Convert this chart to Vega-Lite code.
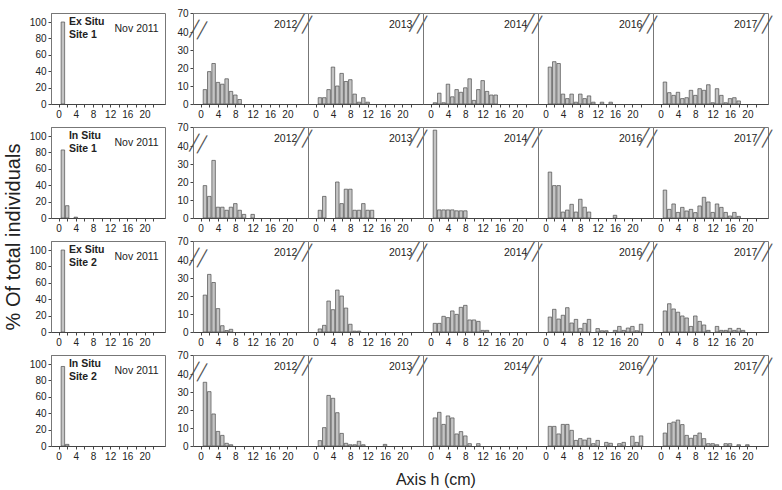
{
"$schema": "https://vega.github.io/schema/vega-lite/v6.json",
"background": "white",
"padding": {"left": 3, "top": 8, "right": 5, "bottom": 5},
"title": {"text": "Axis h (cm)", "orient": "bottom", "anchor": "middle", "fontSize": 16, "fontWeight": "normal", "font": "Liberation Sans", "color": "#222", "offset": 10, "dx": 47},
"spacing": 10,
"datasets": {"d": [
{"s":"Ex Situ\nSite 1","yr":"Nov 2011","h":1,"v":100},
{"s":"Ex Situ\nSite 1","yr":"2012","h":1,"v":8},{"s":"Ex Situ\nSite 1","yr":"2012","h":2,"v":18},{"s":"Ex Situ\nSite 1","yr":"2012","h":3,"v":22.5},{"s":"Ex Situ\nSite 1","yr":"2012","h":4,"v":12},{"s":"Ex Situ\nSite 1","yr":"2012","h":5,"v":11},{"s":"Ex Situ\nSite 1","yr":"2012","h":6,"v":14},{"s":"Ex Situ\nSite 1","yr":"2012","h":7,"v":7},{"s":"Ex Situ\nSite 1","yr":"2012","h":8,"v":5},{"s":"Ex Situ\nSite 1","yr":"2012","h":9,"v":2.5},
{"s":"Ex Situ\nSite 1","yr":"2013","h":1,"v":3.5},{"s":"Ex Situ\nSite 1","yr":"2013","h":2,"v":3.5},{"s":"Ex Situ\nSite 1","yr":"2013","h":3,"v":8},{"s":"Ex Situ\nSite 1","yr":"2013","h":4,"v":20.5},{"s":"Ex Situ\nSite 1","yr":"2013","h":5,"v":10},{"s":"Ex Situ\nSite 1","yr":"2013","h":6,"v":17},{"s":"Ex Situ\nSite 1","yr":"2013","h":7,"v":12.5},{"s":"Ex Situ\nSite 1","yr":"2013","h":8,"v":13.5},{"s":"Ex Situ\nSite 1","yr":"2013","h":9,"v":5.5},{"s":"Ex Situ\nSite 1","yr":"2013","h":10,"v":1},{"s":"Ex Situ\nSite 1","yr":"2013","h":11,"v":3.5},{"s":"Ex Situ\nSite 1","yr":"2013","h":12,"v":1},
{"s":"Ex Situ\nSite 1","yr":"2014","h":1,"v":0.7},{"s":"Ex Situ\nSite 1","yr":"2014","h":2,"v":6},{"s":"Ex Situ\nSite 1","yr":"2014","h":3,"v":0.7},{"s":"Ex Situ\nSite 1","yr":"2014","h":4,"v":11},{"s":"Ex Situ\nSite 1","yr":"2014","h":5,"v":4},{"s":"Ex Situ\nSite 1","yr":"2014","h":6,"v":8},{"s":"Ex Situ\nSite 1","yr":"2014","h":7,"v":6.5},{"s":"Ex Situ\nSite 1","yr":"2014","h":8,"v":9},{"s":"Ex Situ\nSite 1","yr":"2014","h":9,"v":14},{"s":"Ex Situ\nSite 1","yr":"2014","h":10,"v":2},{"s":"Ex Situ\nSite 1","yr":"2014","h":11,"v":8},{"s":"Ex Situ\nSite 1","yr":"2014","h":12,"v":13},{"s":"Ex Situ\nSite 1","yr":"2014","h":13,"v":7},{"s":"Ex Situ\nSite 1","yr":"2014","h":14,"v":5},{"s":"Ex Situ\nSite 1","yr":"2014","h":15,"v":5},
{"s":"Ex Situ\nSite 1","yr":"2016","h":1,"v":20.5},{"s":"Ex Situ\nSite 1","yr":"2016","h":2,"v":23.5},{"s":"Ex Situ\nSite 1","yr":"2016","h":3,"v":22.5},{"s":"Ex Situ\nSite 1","yr":"2016","h":4,"v":5.5},{"s":"Ex Situ\nSite 1","yr":"2016","h":5,"v":3},{"s":"Ex Situ\nSite 1","yr":"2016","h":6,"v":5.5},{"s":"Ex Situ\nSite 1","yr":"2016","h":7,"v":1},{"s":"Ex Situ\nSite 1","yr":"2016","h":8,"v":5.5},{"s":"Ex Situ\nSite 1","yr":"2016","h":9,"v":3},{"s":"Ex Situ\nSite 1","yr":"2016","h":10,"v":4.5},{"s":"Ex Situ\nSite 1","yr":"2016","h":11,"v":1},{"s":"Ex Situ\nSite 1","yr":"2016","h":13,"v":1},{"s":"Ex Situ\nSite 1","yr":"2016","h":15,"v":1},
{"s":"Ex Situ\nSite 1","yr":"2017","h":1,"v":12.2},{"s":"Ex Situ\nSite 1","yr":"2017","h":2,"v":6.3},{"s":"Ex Situ\nSite 1","yr":"2017","h":3,"v":4.8},{"s":"Ex Situ\nSite 1","yr":"2017","h":4,"v":6.5},{"s":"Ex Situ\nSite 1","yr":"2017","h":5,"v":3},{"s":"Ex Situ\nSite 1","yr":"2017","h":6,"v":3.5},{"s":"Ex Situ\nSite 1","yr":"2017","h":7,"v":7.6},{"s":"Ex Situ\nSite 1","yr":"2017","h":8,"v":4.8},{"s":"Ex Situ\nSite 1","yr":"2017","h":9,"v":8.5},{"s":"Ex Situ\nSite 1","yr":"2017","h":10,"v":7.6},{"s":"Ex Situ\nSite 1","yr":"2017","h":11,"v":10.7},{"s":"Ex Situ\nSite 1","yr":"2017","h":12,"v":0.7},{"s":"Ex Situ\nSite 1","yr":"2017","h":13,"v":8.5},{"s":"Ex Situ\nSite 1","yr":"2017","h":14,"v":4.8},{"s":"Ex Situ\nSite 1","yr":"2017","h":15,"v":0.7},{"s":"Ex Situ\nSite 1","yr":"2017","h":16,"v":3},{"s":"Ex Situ\nSite 1","yr":"2017","h":17,"v":3.5},{"s":"Ex Situ\nSite 1","yr":"2017","h":18,"v":1.7},
{"s":"In Situ\nSite 1","yr":"Nov 2011","h":1,"v":83},{"s":"In Situ\nSite 1","yr":"Nov 2011","h":2,"v":15},{"s":"In Situ\nSite 1","yr":"Nov 2011","h":4,"v":1},
{"s":"In Situ\nSite 1","yr":"2012","h":1,"v":18},{"s":"In Situ\nSite 1","yr":"2012","h":2,"v":12},{"s":"In Situ\nSite 1","yr":"2012","h":3,"v":32},{"s":"In Situ\nSite 1","yr":"2012","h":4,"v":6},{"s":"In Situ\nSite 1","yr":"2012","h":5,"v":6},{"s":"In Situ\nSite 1","yr":"2012","h":6,"v":4.3},{"s":"In Situ\nSite 1","yr":"2012","h":7,"v":6},{"s":"In Situ\nSite 1","yr":"2012","h":8,"v":8},{"s":"In Situ\nSite 1","yr":"2012","h":9,"v":4.3},{"s":"In Situ\nSite 1","yr":"2012","h":10,"v":2},{"s":"In Situ\nSite 1","yr":"2012","h":12,"v":2},
{"s":"In Situ\nSite 1","yr":"2013","h":1,"v":4.3},{"s":"In Situ\nSite 1","yr":"2013","h":2,"v":12},{"s":"In Situ\nSite 1","yr":"2013","h":5,"v":20},{"s":"In Situ\nSite 1","yr":"2013","h":6,"v":8},{"s":"In Situ\nSite 1","yr":"2013","h":7,"v":16},{"s":"In Situ\nSite 1","yr":"2013","h":8,"v":16},{"s":"In Situ\nSite 1","yr":"2013","h":9,"v":4.3},{"s":"In Situ\nSite 1","yr":"2013","h":10,"v":4.3},{"s":"In Situ\nSite 1","yr":"2013","h":11,"v":8},{"s":"In Situ\nSite 1","yr":"2013","h":12,"v":4.3},{"s":"In Situ\nSite 1","yr":"2013","h":13,"v":4.3},
{"s":"In Situ\nSite 1","yr":"2014","h":1,"v":65},{"s":"In Situ\nSite 1","yr":"2014","h":2,"v":4.5},{"s":"In Situ\nSite 1","yr":"2014","h":3,"v":4.5},{"s":"In Situ\nSite 1","yr":"2014","h":4,"v":4.5},{"s":"In Situ\nSite 1","yr":"2014","h":5,"v":4.5},{"s":"In Situ\nSite 1","yr":"2014","h":6,"v":4},{"s":"In Situ\nSite 1","yr":"2014","h":7,"v":4},{"s":"In Situ\nSite 1","yr":"2014","h":8,"v":4},
{"s":"In Situ\nSite 1","yr":"2016","h":1,"v":25.5},{"s":"In Situ\nSite 1","yr":"2016","h":2,"v":18},{"s":"In Situ\nSite 1","yr":"2016","h":3,"v":18},{"s":"In Situ\nSite 1","yr":"2016","h":4,"v":3.3},{"s":"In Situ\nSite 1","yr":"2016","h":5,"v":4.4},{"s":"In Situ\nSite 1","yr":"2016","h":6,"v":7.6},{"s":"In Situ\nSite 1","yr":"2016","h":7,"v":3.3},{"s":"In Situ\nSite 1","yr":"2016","h":8,"v":10.4},{"s":"In Situ\nSite 1","yr":"2016","h":9,"v":6},{"s":"In Situ\nSite 1","yr":"2016","h":10,"v":3.3},{"s":"In Situ\nSite 1","yr":"2016","h":16,"v":1.5},
{"s":"In Situ\nSite 1","yr":"2017","h":1,"v":15.5},{"s":"In Situ\nSite 1","yr":"2017","h":2,"v":4.8},{"s":"In Situ\nSite 1","yr":"2017","h":3,"v":7.8},{"s":"In Situ\nSite 1","yr":"2017","h":4,"v":3.1},{"s":"In Situ\nSite 1","yr":"2017","h":5,"v":5.9},{"s":"In Situ\nSite 1","yr":"2017","h":6,"v":3.9},{"s":"In Situ\nSite 1","yr":"2017","h":7,"v":4.8},{"s":"In Situ\nSite 1","yr":"2017","h":8,"v":3},{"s":"In Situ\nSite 1","yr":"2017","h":9,"v":6.7},{"s":"In Situ\nSite 1","yr":"2017","h":10,"v":11.5},{"s":"In Situ\nSite 1","yr":"2017","h":11,"v":8.9},{"s":"In Situ\nSite 1","yr":"2017","h":12,"v":3.1},{"s":"In Situ\nSite 1","yr":"2017","h":13,"v":7.8},{"s":"In Situ\nSite 1","yr":"2017","h":14,"v":5.9},{"s":"In Situ\nSite 1","yr":"2017","h":15,"v":3.1},{"s":"In Situ\nSite 1","yr":"2017","h":16,"v":1.1},{"s":"In Situ\nSite 1","yr":"2017","h":17,"v":3.1},{"s":"In Situ\nSite 1","yr":"2017","h":18,"v":0.9},
{"s":"Ex Situ\nSite 2","yr":"Nov 2011","h":1,"v":100},
{"s":"Ex Situ\nSite 2","yr":"2012","h":1,"v":20.5},{"s":"Ex Situ\nSite 2","yr":"2012","h":2,"v":32},{"s":"Ex Situ\nSite 2","yr":"2012","h":3,"v":27.5},{"s":"Ex Situ\nSite 2","yr":"2012","h":4,"v":13},{"s":"Ex Situ\nSite 2","yr":"2012","h":5,"v":3.5},{"s":"Ex Situ\nSite 2","yr":"2012","h":6,"v":0.8},{"s":"Ex Situ\nSite 2","yr":"2012","h":7,"v":1.5},
{"s":"Ex Situ\nSite 2","yr":"2013","h":1,"v":1.7},{"s":"Ex Situ\nSite 2","yr":"2013","h":2,"v":3.7},{"s":"Ex Situ\nSite 2","yr":"2013","h":3,"v":17.2},{"s":"Ex Situ\nSite 2","yr":"2013","h":4,"v":12.4},{"s":"Ex Situ\nSite 2","yr":"2013","h":5,"v":23.3},{"s":"Ex Situ\nSite 2","yr":"2013","h":6,"v":20},{"s":"Ex Situ\nSite 2","yr":"2013","h":7,"v":13.3},{"s":"Ex Situ\nSite 2","yr":"2013","h":8,"v":4.3},{"s":"Ex Situ\nSite 2","yr":"2013","h":9,"v":0.5},{"s":"Ex Situ\nSite 2","yr":"2013","h":10,"v":0.5},
{"s":"Ex Situ\nSite 2","yr":"2014","h":1,"v":4.8},{"s":"Ex Situ\nSite 2","yr":"2014","h":2,"v":4.8},{"s":"Ex Situ\nSite 2","yr":"2014","h":3,"v":8.7},{"s":"Ex Situ\nSite 2","yr":"2014","h":4,"v":8},{"s":"Ex Situ\nSite 2","yr":"2014","h":5,"v":11.7},{"s":"Ex Situ\nSite 2","yr":"2014","h":6,"v":9.8},{"s":"Ex Situ\nSite 2","yr":"2014","h":7,"v":13.7},{"s":"Ex Situ\nSite 2","yr":"2014","h":8,"v":14.8},{"s":"Ex Situ\nSite 2","yr":"2014","h":9,"v":6.7},{"s":"Ex Situ\nSite 2","yr":"2014","h":10,"v":6.7},{"s":"Ex Situ\nSite 2","yr":"2014","h":11,"v":5.9},{"s":"Ex Situ\nSite 2","yr":"2014","h":12,"v":0.9},{"s":"Ex Situ\nSite 2","yr":"2014","h":13,"v":0.9},
{"s":"Ex Situ\nSite 2","yr":"2016","h":1,"v":8.3},{"s":"Ex Situ\nSite 2","yr":"2016","h":2,"v":12.6},{"s":"Ex Situ\nSite 2","yr":"2016","h":3,"v":7.2},{"s":"Ex Situ\nSite 2","yr":"2016","h":4,"v":9.3},{"s":"Ex Situ\nSite 2","yr":"2016","h":5,"v":13.5},{"s":"Ex Situ\nSite 2","yr":"2016","h":6,"v":5},{"s":"Ex Situ\nSite 2","yr":"2016","h":7,"v":7},{"s":"Ex Situ\nSite 2","yr":"2016","h":8,"v":2},{"s":"Ex Situ\nSite 2","yr":"2016","h":9,"v":4.8},{"s":"Ex Situ\nSite 2","yr":"2016","h":10,"v":7},{"s":"Ex Situ\nSite 2","yr":"2016","h":12,"v":1.9},{"s":"Ex Situ\nSite 2","yr":"2016","h":13,"v":0.7},{"s":"Ex Situ\nSite 2","yr":"2016","h":14,"v":0.7},{"s":"Ex Situ\nSite 2","yr":"2016","h":16,"v":0.9},{"s":"Ex Situ\nSite 2","yr":"2016","h":17,"v":3.1},{"s":"Ex Situ\nSite 2","yr":"2016","h":18,"v":0.9},{"s":"Ex Situ\nSite 2","yr":"2016","h":19,"v":2.2},{"s":"Ex Situ\nSite 2","yr":"2016","h":20,"v":3.1},{"s":"Ex Situ\nSite 2","yr":"2016","h":21,"v":0.7},{"s":"Ex Situ\nSite 2","yr":"2016","h":22,"v":4.3},
{"s":"Ex Situ\nSite 2","yr":"2017","h":1,"v":11.7},{"s":"Ex Situ\nSite 2","yr":"2017","h":2,"v":15.7},{"s":"Ex Situ\nSite 2","yr":"2017","h":3,"v":12.8},{"s":"Ex Situ\nSite 2","yr":"2017","h":4,"v":11},{"s":"Ex Situ\nSite 2","yr":"2017","h":5,"v":8.9},{"s":"Ex Situ\nSite 2","yr":"2017","h":6,"v":7.8},{"s":"Ex Situ\nSite 2","yr":"2017","h":7,"v":3.1},{"s":"Ex Situ\nSite 2","yr":"2017","h":8,"v":8.9},{"s":"Ex Situ\nSite 2","yr":"2017","h":9,"v":5.9},{"s":"Ex Situ\nSite 2","yr":"2017","h":10,"v":3.9},{"s":"Ex Situ\nSite 2","yr":"2017","h":11,"v":0.9},{"s":"Ex Situ\nSite 2","yr":"2017","h":13,"v":3.1},{"s":"Ex Situ\nSite 2","yr":"2017","h":14,"v":0.9},{"s":"Ex Situ\nSite 2","yr":"2017","h":15,"v":0.9},{"s":"Ex Situ\nSite 2","yr":"2017","h":16,"v":2},{"s":"Ex Situ\nSite 2","yr":"2017","h":17,"v":0.9},{"s":"Ex Situ\nSite 2","yr":"2017","h":18,"v":2},{"s":"Ex Situ\nSite 2","yr":"2017","h":19,"v":0.9},
{"s":"In Situ\nSite 2","yr":"Nov 2011","h":1,"v":97},{"s":"In Situ\nSite 2","yr":"Nov 2011","h":2,"v":2},
{"s":"In Situ\nSite 2","yr":"2012","h":1,"v":35.4},{"s":"In Situ\nSite 2","yr":"2012","h":2,"v":30.2},{"s":"In Situ\nSite 2","yr":"2012","h":3,"v":17.8},{"s":"In Situ\nSite 2","yr":"2012","h":4,"v":8.1},{"s":"In Situ\nSite 2","yr":"2012","h":5,"v":5.9},{"s":"In Situ\nSite 2","yr":"2012","h":6,"v":1.5},{"s":"In Situ\nSite 2","yr":"2012","h":7,"v":0.7},
{"s":"In Situ\nSite 2","yr":"2013","h":1,"v":3},{"s":"In Situ\nSite 2","yr":"2013","h":2,"v":10.2},{"s":"In Situ\nSite 2","yr":"2013","h":3,"v":28.1},{"s":"In Situ\nSite 2","yr":"2013","h":4,"v":26.5},{"s":"In Situ\nSite 2","yr":"2013","h":5,"v":18.5},{"s":"In Situ\nSite 2","yr":"2013","h":6,"v":7},{"s":"In Situ\nSite 2","yr":"2013","h":7,"v":1.5},{"s":"In Situ\nSite 2","yr":"2013","h":8,"v":0.7},{"s":"In Situ\nSite 2","yr":"2013","h":9,"v":0.7},{"s":"In Situ\nSite 2","yr":"2013","h":10,"v":2.6},{"s":"In Situ\nSite 2","yr":"2013","h":11,"v":0.7},{"s":"In Situ\nSite 2","yr":"2013","h":16,"v":0.9},
{"s":"In Situ\nSite 2","yr":"2014","h":1,"v":15.6},{"s":"In Situ\nSite 2","yr":"2014","h":2,"v":18.7},{"s":"In Situ\nSite 2","yr":"2014","h":3,"v":12},{"s":"In Situ\nSite 2","yr":"2014","h":4,"v":16.7},{"s":"In Situ\nSite 2","yr":"2014","h":5,"v":15.6},{"s":"In Situ\nSite 2","yr":"2014","h":6,"v":6.7},{"s":"In Situ\nSite 2","yr":"2014","h":7,"v":8},{"s":"In Situ\nSite 2","yr":"2014","h":8,"v":5.6},{"s":"In Situ\nSite 2","yr":"2014","h":9,"v":1.3},{"s":"In Situ\nSite 2","yr":"2014","h":11,"v":1.3},
{"s":"In Situ\nSite 2","yr":"2016","h":1,"v":10.9},{"s":"In Situ\nSite 2","yr":"2016","h":2,"v":10.9},{"s":"In Situ\nSite 2","yr":"2016","h":3,"v":6.7},{"s":"In Situ\nSite 2","yr":"2016","h":4,"v":12},{"s":"In Situ\nSite 2","yr":"2016","h":5,"v":12},{"s":"In Situ\nSite 2","yr":"2016","h":6,"v":8.7},{"s":"In Situ\nSite 2","yr":"2016","h":7,"v":3.1},{"s":"In Situ\nSite 2","yr":"2016","h":8,"v":4.1},{"s":"In Situ\nSite 2","yr":"2016","h":9,"v":3.3},{"s":"In Situ\nSite 2","yr":"2016","h":10,"v":4.3},{"s":"In Situ\nSite 2","yr":"2016","h":11,"v":1.3},{"s":"In Situ\nSite 2","yr":"2016","h":12,"v":3.1},{"s":"In Situ\nSite 2","yr":"2016","h":14,"v":2},{"s":"In Situ\nSite 2","yr":"2016","h":15,"v":1.5},{"s":"In Situ\nSite 2","yr":"2016","h":17,"v":1.3},{"s":"In Situ\nSite 2","yr":"2016","h":18,"v":2},{"s":"In Situ\nSite 2","yr":"2016","h":20,"v":5.4},{"s":"In Situ\nSite 2","yr":"2016","h":21,"v":2},{"s":"In Situ\nSite 2","yr":"2016","h":22,"v":5.6},
{"s":"In Situ\nSite 2","yr":"2017","h":1,"v":7.2},{"s":"In Situ\nSite 2","yr":"2017","h":2,"v":12.6},{"s":"In Situ\nSite 2","yr":"2017","h":3,"v":13.3},{"s":"In Situ\nSite 2","yr":"2017","h":4,"v":14.4},{"s":"In Situ\nSite 2","yr":"2017","h":5,"v":11.9},{"s":"In Situ\nSite 2","yr":"2017","h":6,"v":5.9},{"s":"In Situ\nSite 2","yr":"2017","h":7,"v":4.3},{"s":"In Situ\nSite 2","yr":"2017","h":8,"v":5.9},{"s":"In Situ\nSite 2","yr":"2017","h":9,"v":7.2},{"s":"In Situ\nSite 2","yr":"2017","h":10,"v":4.1},{"s":"In Situ\nSite 2","yr":"2017","h":11,"v":1.3},{"s":"In Situ\nSite 2","yr":"2017","h":12,"v":1.3},{"s":"In Situ\nSite 2","yr":"2017","h":13,"v":0.7},{"s":"In Situ\nSite 2","yr":"2017","h":15,"v":1.3},{"s":"In Situ\nSite 2","yr":"2017","h":16,"v":1.3},{"s":"In Situ\nSite 2","yr":"2017","h":18,"v":0.7},{"s":"In Situ\nSite 2","yr":"2017","h":20,"v":0.7}
]},
"hconcat": [
{
 "data": {"name": "d"},
 "transform": [{"filter": "datum.yr == 'Nov 2011'"}],
 "facet": {"row": {"field": "s", "type": "nominal", "sort": ["Ex Situ\nSite 1", "In Situ\nSite 1", "Ex Situ\nSite 2", "In Situ\nSite 2"],
   "header": {"labels": false, "title": "% Of total individuals", "titleFontSize": 20, "titleFont": "Liberation Sans", "titleFontWeight": "normal", "titleColor": "#222", "titlePadding": -5}}},
 "spacing": {"row": 23},
 "bounds": "flush",
 "resolve": {"axis": {"x": "independent"}},
 "spec": {
  "width": 114, "height": 91,
  "layer": [
   {"mark": {"type": "bar", "width": 3.5, "fill": "#c4c4c4", "stroke": "#4d4d4d", "strokeWidth": 0.7},
    "encoding": {
     "x": {"field": "h", "type": "quantitative", "scale": {"domain": [-0.6, 23.6], "nice": false, "zero": false},
       "axis": {"values": [0,2,4,6,8,10,12,14,16,18,20,22], "tickCount": 30, "labelExpr": "datum.value % 4 == 0 ? datum.label : ''", "title": null}},
     "y": {"field": "v", "type": "quantitative", "scale": {"domain": [0, 111], "nice": false},
       "axis": {"values": [0,20,40,60,80,100], "tickCount": 30, "title": null}}}},
   {"transform": [{"aggregate": [{"op": "count", "as": "n"}], "groupby": ["s", "yr"]}],
    "mark": {"type": "text", "align": "right", "baseline": "middle", "fontSize": 10.5},
    "encoding": {"x": {"datum": 23.3}, "y": {"datum": 91}, "text": {"value": "Nov 2011"}}},
   {"transform": [{"aggregate": [{"op": "count", "as": "n"}], "groupby": ["s", "yr"]}],
    "mark": {"type": "text", "align": "left", "baseline": "top", "fontSize": 10.5, "fontWeight": "bold", "lineBreak": "\n", "lineHeight": 13},
    "encoding": {"x": {"datum": 2.4}, "y": {"datum": 106}, "text": {"field": "s"}}}
  ]
 }
},
{
 "data": {"name": "d"},
 "transform": [{"filter": "datum.yr != 'Nov 2011'"}],
 "facet": {
  "row": {"field": "s", "type": "nominal", "sort": ["Ex Situ\nSite 1", "In Situ\nSite 1", "Ex Situ\nSite 2", "In Situ\nSite 2"], "header": {"labels": false, "title": null}},
  "column": {"field": "yr", "type": "nominal", "header": {"labels": false, "title": null}}},
 "spacing": {"row": 23, "column": 0},
 "bounds": "flush",
 "resolve": {"axis": {"x": "independent"}},
 "spec": {
  "width": 115, "height": 91,
  "layer": [
   {"mark": {"type": "bar", "width": 3.5, "fill": "#c4c4c4", "stroke": "#4d4d4d", "strokeWidth": 0.7},
    "encoding": {
     "x": {"field": "h", "type": "quantitative", "scale": {"domain": [-0.6, 23.6], "nice": false, "zero": false},
       "axis": {"values": [0,2,4,6,8,10,12,14,16,18,20,22], "tickCount": 30, "labelExpr": "datum.value % 4 == 0 ? datum.label : ''", "title": null}},
     "y": {"field": "v", "type": "quantitative", "scale": {"domain": [0, 40, 70], "range": [91, 19, 0], "nice": false},
       "axis": {"values": [0,10,20,30,40,70], "tickCount": 30, "title": null}}}},
   {"transform": [{"aggregate": [{"op": "count", "as": "n"}], "groupby": ["s", "yr"]}],
    "mark": {"type": "text", "align": "right", "baseline": "middle", "fontSize": 10.5},
    "encoding": {"x": {"datum": 22.3}, "y": {"datum": 51}, "text": {"field": "yr"}}},
   {"transform": [{"aggregate": [{"op": "count", "as": "n"}], "groupby": ["s", "yr"]}],
    "mark": {"type": "text", "align": "center", "baseline": "middle", "fontSize": 24, "angle": 12, "color": "#555", "font": "DejaVu Sans", "fontWeight": 200},
    "encoding": {"x": {"datum": 23.6}, "y": {"datum": 52}, "text": {"value": "//"}}},
   {"transform": [{"aggregate": [{"op": "count", "as": "n"}], "groupby": ["s", "yr"]}, {"filter": "datum.yr == '2012'"}],
    "mark": {"type": "text", "align": "center", "baseline": "middle", "fontSize": 24, "angle": 12, "color": "#555", "font": "DejaVu Sans", "fontWeight": 200},
    "encoding": {"x": {"datum": -0.6}, "y": {"datum": 43}, "text": {"value": "//"}}}
  ]
 }
}
],
"config": {
 "view": {"stroke": "#777", "strokeWidth": 1},
 "axis": {"labelFont": "Liberation Sans", "labelFontSize": 10, "labelColor": "#222", "tickColor": "#444", "tickSize": 3, "domainColor": "#444", "grid": false, "labelPadding": 2, "labelOverlap": false, "labelFlush": false, "labelBound": false},
 "text": {"font": "Liberation Sans", "color": "#222"}
}
}
